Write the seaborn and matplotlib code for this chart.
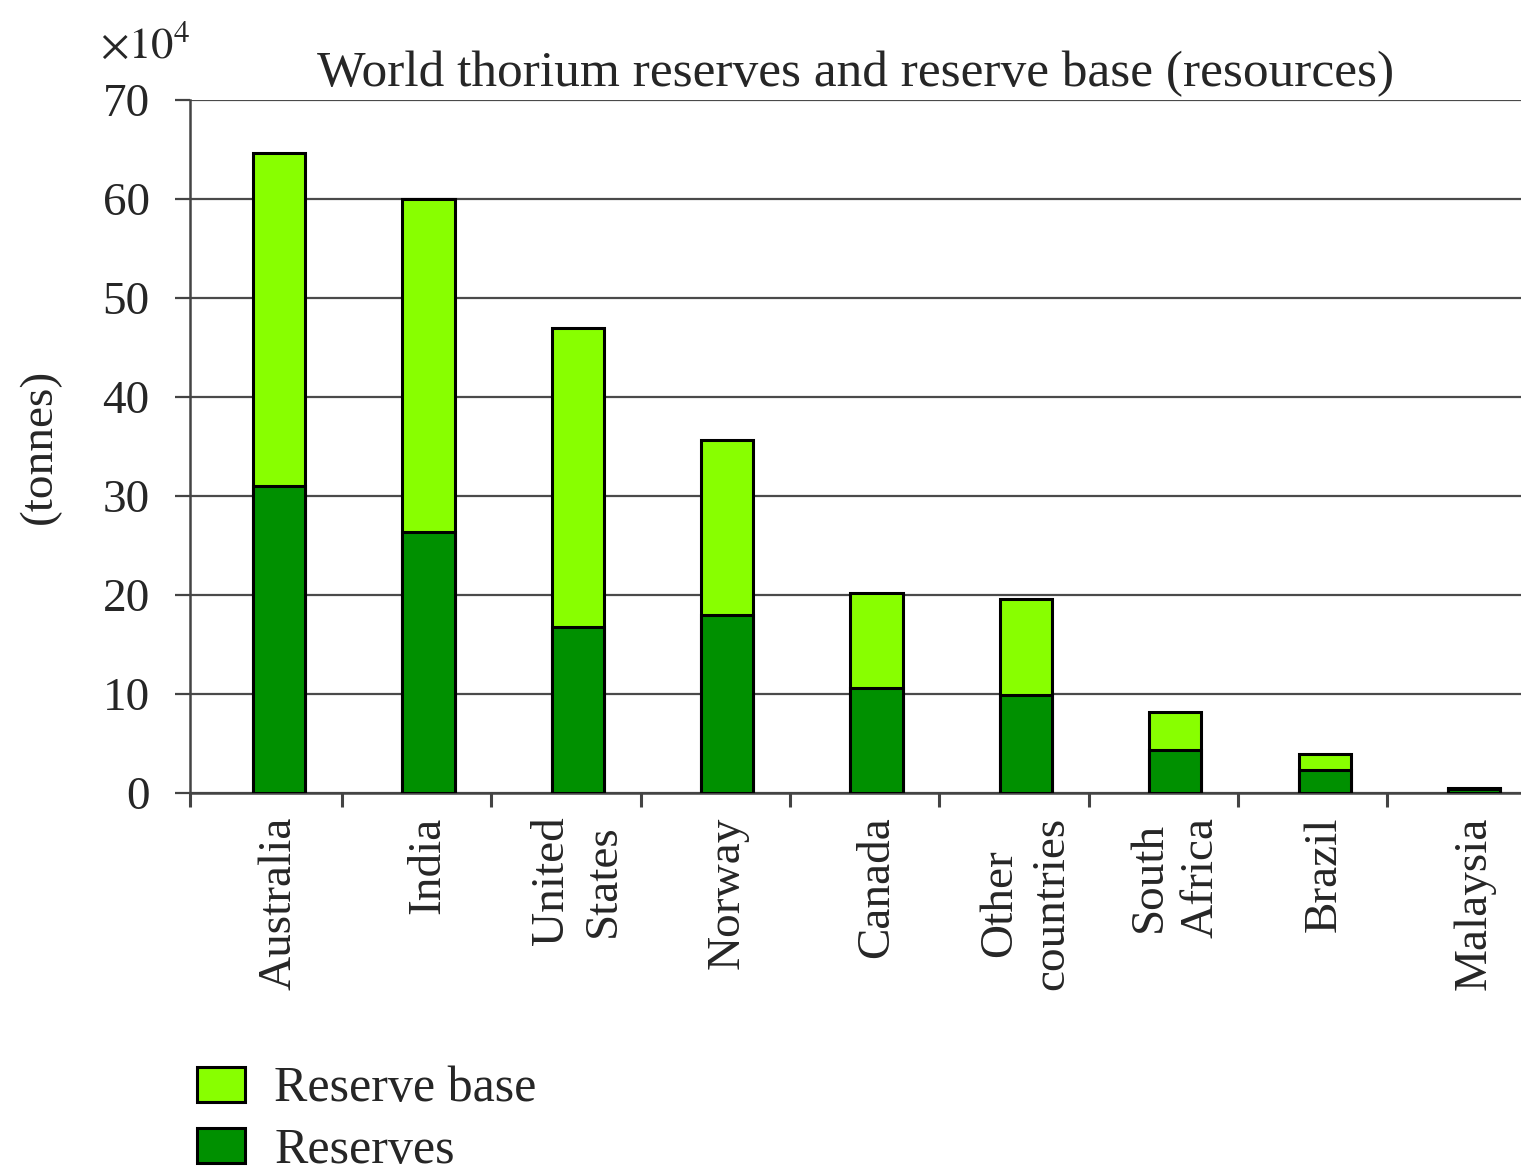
import pandas as pd
import matplotlib.pyplot as plt
import seaborn as sns

# values in units of 10^4 tonnes
countries = ["Australia", "India", "United\nStates", "Norway", "Canada",
             "Other\ncountries", "South\nAfrica", "Brazil", "Malaysia"]
reserve_base = [64.6, 60.0, 47.0, 35.7, 20.2, 19.6, 8.2, 3.9, 0.5]
reserves = [31.0, 26.4, 16.8, 18.0, 10.6, 9.9, 4.3, 2.3, 0.4]
yticks = [0, 10, 20, 30, 40, 50, 60, 70]

light = "#88ff00"
dark = "#009000"
font = "Liberation Serif"

sns.set_style("white")
plt.rcParams["font.family"] = [font, "DejaVu Serif"]
plt.rcParams["mathtext.fontset"] = "stix"

df = pd.DataFrame({
    "country": countries * 2,
    "value": reserve_base + reserves,
    "series": ["Reserve base"] * len(countries) + ["Reserves"] * len(countries),
})

fig = plt.figure(figsize=(15.21, 11.74), dpi=100)
ax = fig.add_axes([190 / 1521, 1 - 793 / 1174, 1331 / 1521, 693 / 1174])

sns.barplot(data=df, x="country", y="value", hue="series", dodge=False,
            palette=[light, dark], saturation=1, width=0.35,
            edgecolor="black", linewidth=2.2, ax=ax, zorder=3)

ax.set_xlim(-0.596, 8.314)
ax.set_ylim(0, 70)
ax.set_yticks(yticks)
ax.yaxis.grid(True, color="#4a4a4a", linewidth=1.6, zorder=0)
ax.set_axisbelow(True)
for s in ["top", "right"]:
    ax.spines[s].set_visible(False)
for s in ["left", "bottom"]:
    ax.spines[s].set_color("#444444")
    ax.spines[s].set_linewidth(1.8)

ax.tick_params(axis="y", which="major", direction="out", length=11, width=1.6,
               color="#444444", pad=18, labelsize=34, left=True)
ax.tick_params(axis="x", which="major", length=0, pad=17, labelsize=34)
ax.set_xticks(range(len(countries)), countries, rotation=90,
              ha="center", va="top", linespacing=1.3)
ax.set_xticks([-0.596] + [i + 0.42 for i in range(8)], minor=True)
ax.tick_params(axis="x", which="minor", direction="out", length=10, width=2.2,
               color="#444444", bottom=True)

ax.set_xlabel("")
ax.set_ylabel("(tonnes)", fontsize=34)
ax.yaxis.set_label_coords(-0.097, 0.5)
ax.set_title("World thorium reserves and reserve base (resources)",
             fontsize=37, pad=10)
fig.text(100 / 1521, 1 - 58 / 1174, r"$\times 10^4$", fontsize=32)

handles, labels = ax.get_legend_handles_labels()
ax.get_legend().remove()
fig.legend(handles, labels, loc="upper left",
           bbox_to_anchor=(197 / 1521, 1 - 1066 / 1174), frameon=False,
           fontsize=36, handlelength=0.95, handleheight=0.7,
           handletextpad=0.6, labelspacing=0.3, borderpad=0,
           borderaxespad=0)

fig.savefig("out.png", dpi=100)
